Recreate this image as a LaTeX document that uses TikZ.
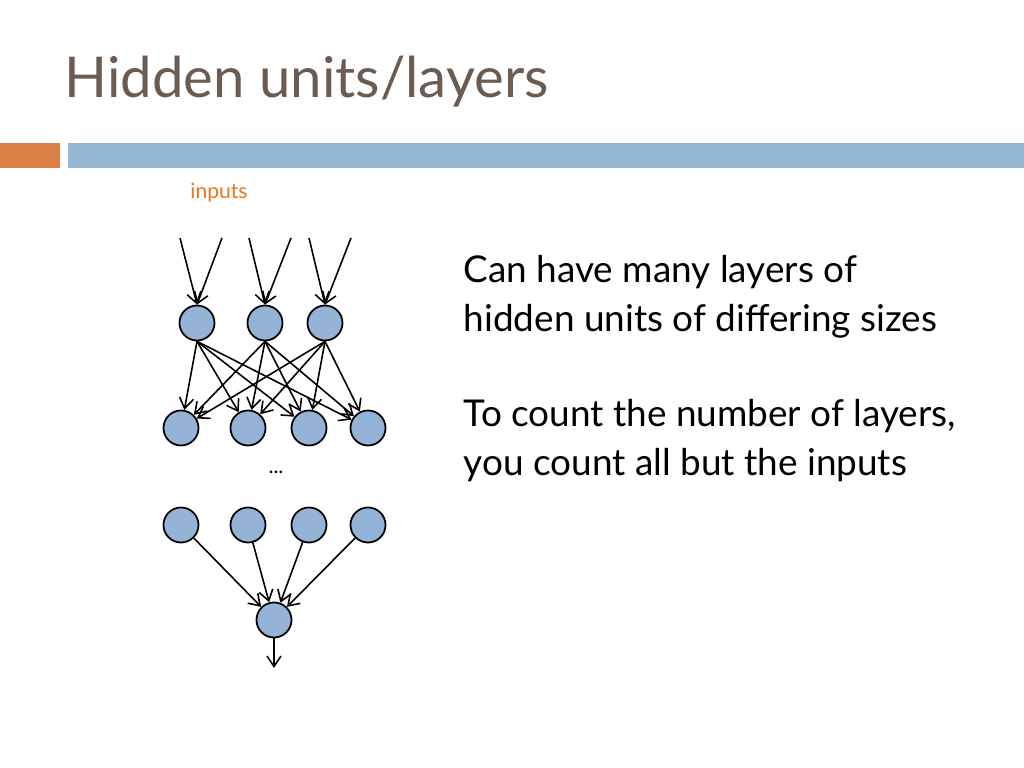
\documentclass[tikz,border=0pt]{standalone}
\usepackage{fontspec}
\setmainfont{Lato}
\usetikzlibrary{arrows.meta}
\definecolor{titlec}{HTML}{6B5B50}
\definecolor{barorange}{HTML}{DD8047}
\definecolor{barblue}{HTML}{94B6D2}
\definecolor{unitfill}{HTML}{95B3D7}
\definecolor{inorange}{HTML}{E8761E}
\begin{document}
\begin{tikzpicture}[x=0.01cm,y=-0.01cm,
  unit/.style={circle,draw=black,fill=unitfill,minimum size=0.35cm,inner sep=0pt,line width=0.5pt},
  conn/.style={-{Straight Barb[length=3pt,width=4pt]},line width=0.45pt},
  body/.style={anchor=base west,inner sep=0pt,font=\fontsize{10.5pt}{12pt}\selectfont,text=black}]
\useasboundingbox (0,0) rectangle (1024,768);
\fill[white] (0,0) rectangle (1024,768);
\node[anchor=base west,text=titlec,font=\fontsize{16pt}{19pt}\selectfont,inner sep=0pt] (title) at (64,98) {Hidden units/layers};
\fill[barorange] (0,143) rectangle (60,168);
\fill[barblue] (68,143) rectangle (1024,168);
\node[text=inorange,font=\fontsize{6pt}{7pt}\selectfont,inner sep=0pt] (inlab) at (219,193) {inputs};
\foreach \n/\x in {1/197,2/265,3/325} \node[unit] (a\n) at (\x,323) {};
\foreach \n/\x in {1/181,2/248,3/309,4/368} \node[unit] (b\n) at (\x,428) {};
\foreach \n/\x in {1/181,2/248,3/309,4/368} \node[unit] (c\n) at (\x,525) {};
\node[unit] (o) at (274,620) {};
\foreach \n/\x in {1/180,2/222,3/249,4/291,5/309,6/351} \coordinate (i\n) at (\x,238);
\draw[conn] (i1) -- (a1.north); \draw[conn] (i2) -- (a1.north);
\draw[conn] (i3) -- (a2.north); \draw[conn] (i4) -- (a2.north);
\draw[conn] (i5) -- (a3.north); \draw[conn] (i6) -- (a3.north);
\foreach \i in {1,2,3} \foreach \j in {1,2,3,4} \draw[conn] (a\i.south) -- (b\j);
\foreach \j in {1,2,3,4} \draw[conn] (c\j) -- (o);
\coordinate (out) at (274,668);
\draw[conn] (o) -- (out);
\node[font=\fontsize{6pt}{7pt}\selectfont] (dots) at (276,472) {...};
\node[body] (t1) at (463,283) {Can have many layers of};
\node[body] (t2) at (463,332) {hidden units of differing sizes};
\node[body] (t3) at (463,427) {To count the number of layers,};
\node[body] (t4) at (463,476) {you count all but the inputs};
\end{tikzpicture}
\end{document}
